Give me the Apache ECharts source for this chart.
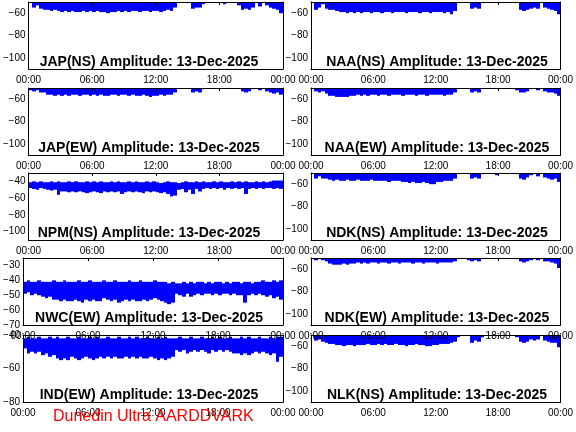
<!DOCTYPE html>
<html>
<head>
<meta charset="utf-8">
<script src="https://cdn.jsdelivr.net/npm/echarts@6/dist/echarts.min.js"></script>
<style>
html, body { margin: 0; padding: 0; background: #fff; }
#main { width: 576px; height: 432px; }
</style>
</head>
<body>
<div id="main"></div>
<script>
// one value every 20 minutes, 72 per day
var binHours = 1 / 3;
var timeTicks = ["00:00", "06:00", "12:00", "18:00", "00:00"];
var dateText = "13-Dec-2025";
var footerText = "Dunedin Ultra AARDDVARK";

// lower edge of the amplitude band (dB); values above the axis top are off the plot
var japNS = [-48,-55,-53,-56,-57,-57,-58,-57,-58,-59,-58,-59,-58,-59,-59,-58,-59,-58,-59,-58,-59,-59,-60,-59,
  -59,-58,-59,-58,-59,-58,-58,-59,-58,-58,-59,-58,-58,-59,-58,-57,-58,-55,-50,-48,-48,-48,-56,-55,
  -55,-52,-48,-48,-48,-48,-48,-52,-48,-48,-48,-53,-57,-56,-57,-55,-49,-54,-49,-53,-55,-56,-57,-60];
var naaNS = [-48,-57,-55,-52,-56,-57,-57,-58,-59,-59,-60,-59,-60,-59,-60,-59,-59,-60,-59,-59,-60,-59,-59,-60,
  -59,-59,-59,-60,-59,-59,-59,-60,-59,-59,-60,-59,-59,-59,-60,-59,-61,-58,-50,-48,-48,-48,-56,-55,
  -56,-50,-48,-48,-48,-48,-48,-48,-48,-48,-48,-50,-57,-58,-57,-56,-55,-56,-50,-55,-56,-57,-58,-61];
var japEW = [-52,-53,-52,-54,-54,-56,-56,-57,-56,-57,-56,-57,-56,-56,-57,-56,-56,-57,-56,-57,-56,-57,-57,-56,
  -56,-57,-56,-56,-57,-56,-57,-57,-56,-57,-58,-57,-57,-56,-57,-56,-56,-54,-49,-48,-48,-48,-54,-53,
  -54,-51,-48,-48,-48,-48,-48,-48,-48,-48,-48,-50,-53,-54,-53,-51,-50,-52,-49,-53,-54,-55,-54,-56];
var naaEW = [-48,-53,-54,-53,-55,-57,-57,-58,-58,-58,-58,-57,-57,-56,-57,-56,-57,-56,-56,-57,-56,-56,-57,-56,
  -56,-56,-57,-56,-56,-56,-57,-56,-56,-57,-56,-56,-56,-56,-57,-56,-56,-54,-50,-48,-48,-48,-54,-53,
  -54,-50,-48,-48,-48,-48,-48,-48,-48,-48,-48,-52,-54,-54,-53,-51,-50,-52,-50,-53,-54,-54,-55,-57];
var ndkNS = [-48,-55,-53,-55,-55,-56,-57,-56,-57,-57,-56,-57,-57,-56,-57,-57,-57,-56,-57,-57,-57,-57,-58,-57,
  -57,-57,-58,-58,-59,-58,-59,-59,-58,-59,-60,-60,-58,-58,-57,-57,-57,-55,-50,-48,-48,-48,-55,-54,
  -55,-51,-48,-48,-48,-52,-48,-48,-48,-48,-48,-51,-55,-56,-54,-52,-50,-53,-50,-54,-55,-56,-55,-58];
var ndkEW = [-51,-52,-51,-52,-53,-55,-56,-56,-56,-55,-56,-55,-55,-54,-55,-54,-55,-54,-54,-55,-54,-54,-55,-54,
  -54,-55,-54,-54,-54,-55,-54,-54,-55,-54,-54,-54,-55,-54,-54,-54,-54,-53,-50,-48,-48,-52,-53,-52,
  -53,-50,-48,-48,-48,-48,-48,-48,-48,-48,-48,-51,-53,-54,-53,-52,-51,-52,-51,-53,-53,-54,-55,-59];
var nlkNS = [-48,-55,-54,-56,-57,-58,-58,-59,-59,-60,-59,-59,-60,-59,-59,-59,-58,-59,-59,-58,-59,-58,-59,-59,
  -58,-59,-59,-60,-59,-59,-58,-59,-59,-60,-60,-59,-59,-58,-58,-58,-57,-56,-52,-48,-48,-48,-57,-55,
  -56,-52,-48,-48,-48,-48,-48,-48,-48,-48,-48,-52,-56,-57,-56,-54,-55,-54,-50,-55,-56,-57,-57,-61];

// stations whose whole band is inside the plot: upper and lower edges
var npmNSTop = [-41,-40,-41,-40,-41,-41,-40,-41,-40,-41,-41,-40,-41,-40,-41,-41,-40,-41,-40,-41,-40,-41,-41,-40,
  -41,-40,-41,-41,-40,-41,-40,-41,-41,-40,-41,-40,-41,-42,-41,-40,-41,-41,-42,-41,-40,-41,-41,-40,
  -41,-40,-41,-41,-40,-41,-40,-41,-41,-40,-41,-40,-41,-40,-41,-41,-40,-41,-40,-41,-40,-39,-39,-39];
var npmNSBottom = [-48,-49,-50,-48,-49,-50,-51,-50,-56,-52,-52,-53,-52,-53,-52,-53,-54,-53,-52,-53,-54,-52,-53,-52,
  -53,-52,-55,-53,-52,-53,-52,-53,-54,-52,-53,-52,-53,-54,-53,-55,-58,-57,-50,-49,-53,-50,-55,-49,
  -52,-49,-48,-49,-48,-49,-48,-50,-48,-49,-48,-49,-48,-55,-49,-48,-49,-48,-49,-48,-48,-49,-48,-49];
var nwcEWTop = [-41,-40,-41,-41,-40,-41,-41,-41,-40,-41,-41,-40,-41,-41,-41,-40,-41,-41,-40,-41,-41,-41,-40,-41,
  -41,-40,-41,-41,-41,-40,-41,-41,-40,-41,-41,-41,-40,-41,-41,-41,-42,-41,-42,-42,-41,-42,-41,-42,
  -41,-41,-42,-41,-42,-41,-41,-42,-41,-42,-41,-41,-42,-41,-41,-42,-41,-41,-40,-41,-41,-40,-41,-40];
var nwcEWBottom = [-49,-48,-50,-49,-50,-51,-52,-51,-53,-53,-54,-53,-54,-54,-53,-54,-55,-53,-54,-53,-54,-54,-52,-53,
  -54,-53,-55,-54,-53,-54,-53,-54,-54,-53,-54,-53,-52,-53,-54,-55,-56,-55,-49,-50,-51,-49,-51,-50,
  -49,-50,-49,-49,-50,-49,-50,-49,-49,-50,-49,-50,-50,-55,-50,-49,-50,-49,-50,-51,-50,-52,-51,-53];
var indEWTop = [-42,-41,-42,-42,-41,-42,-42,-41,-42,-41,-42,-42,-41,-42,-42,-41,-42,-42,-41,-42,-41,-42,-42,-41,
  -42,-42,-41,-42,-42,-41,-42,-41,-42,-42,-41,-42,-42,-41,-42,-41,-42,-42,-42,-41,-42,-42,-41,-42,
  -42,-41,-42,-42,-41,-42,-41,-42,-42,-41,-42,-42,-41,-42,-41,-42,-42,-41,-42,-42,-41,-42,-41,-41];
var indEWBottom = [-48,-51,-50,-51,-50,-52,-51,-53,-52,-54,-55,-54,-55,-53,-54,-55,-54,-53,-54,-55,-54,-53,-54,-53,
  -54,-53,-54,-54,-53,-54,-53,-54,-53,-54,-54,-53,-54,-55,-54,-55,-54,-53,-49,-50,-49,-51,-50,-49,
  -50,-49,-50,-51,-49,-50,-49,-50,-49,-50,-51,-51,-52,-51,-52,-51,-50,-51,-50,-51,-52,-51,-56,-53];

var panels = [
  { name: "JAP(NS)", lo: japNS, col: 0, row: 0, min: -110, max: -50, step: 20, ivl: 10 },
  { name: "NAA(NS)", lo: naaNS, col: 1, row: 0, min: -110, max: -50, step: 20, ivl: 10 },
  { name: "JAP(EW)", lo: japEW, col: 0, row: 1, min: -110, max: -50, step: 20, ivl: 10 },
  { name: "NAA(EW)", lo: naaEW, col: 1, row: 1, min: -110, max: -50, step: 20, ivl: 10 },
  { name: "NPM(NS)", lo: npmNSBottom, hi: npmNSTop, col: 0, row: 2, min: -110, max: -30, step: 20, ivl: 10 },
  { name: "NDK(NS)", lo: ndkNS, col: 1, row: 2, min: -110, max: -50, step: 20, ivl: 10 },
  { name: "NWC(EW)", lo: nwcEWBottom, hi: nwcEWTop, col: 0, row: 3, min: -70, max: -25, step: 10, ivl: 5 },
  { name: "NDK(EW)", lo: ndkEW, col: 1, row: 3, min: -110, max: -50, step: 20, ivl: 10 },
  { name: "IND(EW)", lo: indEWBottom, hi: indEWTop, col: 0, row: 4, min: -80, max: -40, step: 20, ivl: 20 },
  { name: "NLK(NS)", lo: nlkNS, col: 1, row: 4, min: -110, max: -50, step: 20, ivl: 10 }
];

var colLeft = [23, 311];
var rowTop = [2, 88, 173, 258, 335];
var plotW = 260, plotH = 67;
var font = "'Liberation Sans', Arial, sans-serif";
var lineStyle = { color: '#000', width: 1 };

// one rectangle per time bin, from the upper edge down to the lower edge,
// bin edges snapped to whole pixels so neighbouring bins meet without seams
var renderBand = (params, api) => {
  var n = params.dataIndex, lo = api.value(1), hi = api.value(2);
  var a = api.coord([n * binHours, hi]);
  var b = api.coord([(n + 1) * binHours, lo]);
  var x0 = Math.round(a[0]), x1 = Math.round(b[0]);
  var cs = params.coordSys;
  var shape = echarts.graphic.clipRectByRect(
    { x: x0, y: a[1], width: x1 - x0, height: b[1] - a[1] },
    { x: cs.x, y: cs.y, width: cs.width, height: cs.height }
  );
  if (!shape) return null;
  return { type: 'rect', shape: shape, style: { fill: '#0000ff' } };
};

var grids = [], xAxes = [], yAxes = [], series = [], texts = [];

panels.forEach((p, k) => {
  grids.push({ left: colLeft[p.col], top: rowTop[p.row], width: plotW, height: plotH, containLabel: false });
  xAxes.push({
    gridIndex: k, type: 'value', min: 0, max: 24, interval: 6, position: 'bottom', z: 5,
    axisLine: { show: true, onZero: false, lineStyle: lineStyle },
    axisTick: { show: false }, splitLine: { show: false },
    axisLabel: { color: '#000', fontSize: 10, fontFamily: font, margin: 6,
      formatter: (v) => timeTicks[Math.round(v / 6)] }
  });
  xAxes.push({
    gridIndex: k, type: 'value', min: 0, max: 24, interval: 6, position: 'top', z: 5,
    axisLine: { show: true, onZero: false, lineStyle: lineStyle },
    axisTick: { show: true, inside: true, length: 3, lineStyle: { color: '#000' } },
    axisLabel: { show: false }, splitLine: { show: false }
  });
  yAxes.push({
    gridIndex: k, type: 'value', min: p.min, max: p.max, interval: p.ivl, position: 'left', z: 5,
    axisLine: { show: true, onZero: false, lineStyle: lineStyle },
    axisTick: { show: false }, splitLine: { show: false },
    axisLabel: { color: '#000', fontSize: 10, fontFamily: font, margin: 3, showMinLabel: true, showMaxLabel: true,
      formatter: (v) => (v % p.step === 0 ? '\u2212' + Math.abs(v) : '') }
  });
  yAxes.push({
    gridIndex: k, type: 'value', min: p.min, max: p.max, interval: p.ivl, position: 'right', z: 5,
    axisLine: { show: true, onZero: false, lineStyle: lineStyle },
    axisTick: { show: false }, splitLine: { show: false }, axisLabel: { show: false }
  });

  // where only the lower edge is given the band runs off the top of the plot
  series.push({
    type: 'custom', xAxisIndex: k * 2, yAxisIndex: k * 2, silent: true,
    renderItem: renderBand,
    encode: { x: 0, y: [1, 2] },
    data: p.lo.map((v, i) => [(i + 0.5) * binHours, v, p.hi ? p.hi[i] : 0])
  });

  texts.push({
    type: 'text', z: 100,
    x: colLeft[p.col] + 126, y: rowTop[p.row] + plotH - 7,
    style: { text: p.name + ' Amplitude: ' + dateText, fill: '#000',
      font: 'bold 14px ' + font, textAlign: 'center', textVerticalAlign: 'middle' }
  });
});

texts.push({
  type: 'text', z: 100, x: 53, y: 417,
  style: { text: footerText, fill: '#ff0000', font: '16px ' + font, textAlign: 'left', textVerticalAlign: 'middle' }
});

var chart = echarts.init(document.getElementById('main'), null, { renderer: 'canvas' });
chart.setOption({
  animation: false,
  backgroundColor: '#fff',
  grid: grids,
  xAxis: xAxes,
  yAxis: yAxes,
  series: series,
  graphic: texts
});
</script>
</body>
</html>
